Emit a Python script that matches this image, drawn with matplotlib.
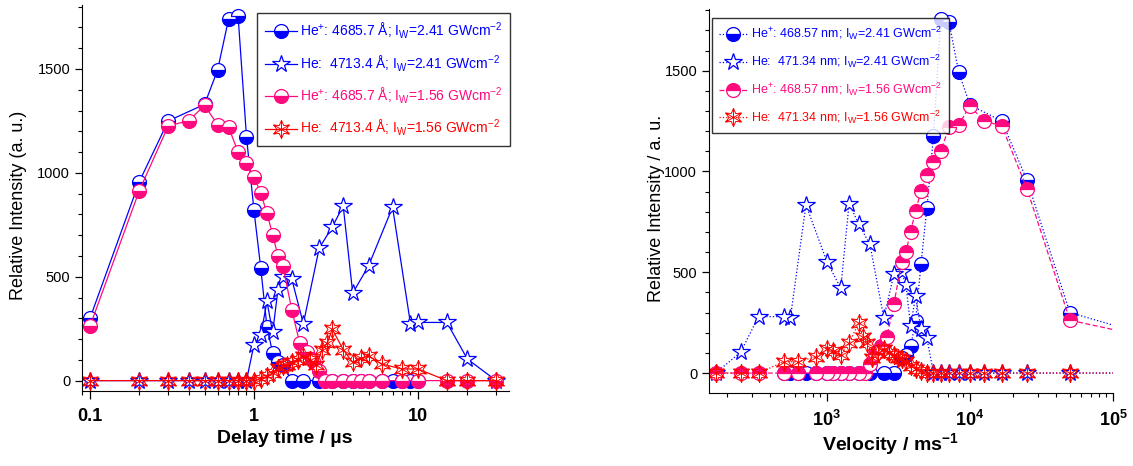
import matplotlib
matplotlib.use("Agg")
import matplotlib.pyplot as plt
import numpy as np
from matplotlib.path import Path
from matplotlib.ticker import MultipleLocator, LogLocator, NullFormatter
from matplotlib import font_manager

# He+ (468.57 nm) and He (471.34 nm) emission vs delay time / velocity,
# two laser intensities (2.41 and 1.56 GW cm^-2)

# ---- left panel: delay time (us) ----
t_ion_hi = [0.1, 0.2, 0.3, 0.5, 0.6, 0.7, 0.8, 0.9, 1.0, 1.1, 1.2, 1.3, 1.4, 1.5,
            1.7, 2.0, 2.5, 3.0, 3.5, 4.0, 4.5, 5.0, 6.0, 7.0, 8.0, 9.0, 10.0]
I_ion_hi = [300, 958, 1250, 1330, 1495, 1740, 1755, 1175, 819, 542, 258, 133, 90, 77,
            0, 0, 0, 0, 0, 0, 0, 0, 0, 0, 0, 0, 0]

t_neu_hi = [0.1, 0.2, 0.3, 0.4, 0.5, 0.6, 0.7, 0.8, 0.9, 1.0, 1.1, 1.2, 1.3, 1.4, 1.5,
            1.7, 2.0, 2.5, 3.0, 3.5, 4.0, 5.0, 7.0, 9.0, 10.0, 15.0, 20.0, 30.0]
I_neu_hi = [0, 0, 0, 0, 0, 0, 0, 0, 0, 173, 218, 381, 232, 437, 501,
            489, 274, 638, 739, 841, 421, 553, 835, 274, 280, 280, 104, 0]

t_ion_lo = [0.1, 0.2, 0.3, 0.4, 0.5, 0.6, 0.7, 0.8, 0.9, 1.0, 1.1, 1.2, 1.3, 1.4, 1.5,
            1.7, 1.9, 2.1, 2.3, 2.5, 2.7, 3.0, 3.5, 4.0, 4.5, 5.0, 6.0, 8.0, 10.0,
            15.0, 20.0, 30.0]
I_ion_lo = [262, 915, 1226, 1251, 1325, 1231, 1220, 1100, 1047, 982, 902, 806, 702, 601, 553,
            341, 181, 136, 93, 45, 0, 0, 0, 0, 0, 0, 0, 0, 0,
            0, 0, 0]

t_neu_lo = [0.1, 0.2, 0.3, 0.4, 0.5, 0.6, 0.7, 0.8, 0.9, 1.0, 1.1, 1.2, 1.3, 1.4, 1.5,
            1.6, 1.7, 1.85, 2.0, 2.2, 2.4, 2.6, 2.8, 3.0, 3.5, 4.0, 4.5, 5.0, 6.0, 8.0,
            10.0, 15.0, 20.0, 30.0]
I_neu_lo = [0, 0, 0, 0, 0, 0, 0, 0, 0, 0, 10, 20, 35, 61, 69,
            77, 88, 100, 117, 101, 77, 149, 181, 248, 149, 88, 109, 117, 80, 56,
            56, 0, 0, 0]

# ---- right panel: velocity (m/s) ----
v_ion_hi = [125000, 50000, 25000, 16700, 10000, 8330, 7140, 6250, 5560, 5000, 4550, 4170,
            3850, 3570, 3330, 2940, 2500, 2000, 1670, 1430, 1250, 1110, 1000, 833, 714,
            625, 556, 500]
J_ion_hi = [218, 300, 958, 1250, 1330, 1495, 1740, 1755, 1175, 819, 542, 258,
            133, 90, 77, 0, 0, 0, 0, 0, 0, 0, 0, 0, 0,
            0, 0, 0]

v_neu_hi = [125000, 50000, 25000, 16700, 12500, 10000, 8330, 7140, 6250, 5560, 5000, 4550,
            4170, 3850, 3570, 3330, 2940, 2500, 2000, 1670, 1430, 1250, 1000, 714, 556,
            500, 333, 250, 167]
J_neu_hi = [0, 0, 0, 0, 0, 0, 0, 0, 0, 0, 173, 218,
            381, 232, 437, 501, 489, 274, 638, 739, 841, 421, 553, 835, 274,
            280, 280, 104, 0]

v_ion_lo = [125000, 50000, 25000, 16700, 12500, 10000, 8330, 7140, 6250, 5560, 5000, 4550,
            4170, 3850, 3570, 3330, 2940, 2630, 2380, 2170, 2000, 1850, 1670, 1430, 1250,
            1110, 1000, 833, 625, 500, 333, 250, 167]
J_ion_lo = [201, 262, 915, 1226, 1251, 1325, 1231, 1220, 1100, 1047, 982, 902,
            806, 702, 601, 553, 341, 181, 136, 93, 45, 0, 0, 0, 0,
            0, 0, 0, 0, 0, 0, 0, 0]

v_neu_lo = [125000, 50000, 25000, 16700, 12500, 10000, 8330, 7140, 6250, 5560, 5000, 4550,
            4170, 3850, 3570, 3330, 3130, 2940, 2700, 2500, 2270, 2080, 1920, 1790, 1670,
            1430, 1250, 1110, 1000, 833, 625, 500, 333, 250, 167]
J_neu_lo = [0, 0, 0, 0, 0, 0, 0, 0, 0, 0, 0, 10,
            20, 35, 61, 69, 77, 88, 100, 117, 101, 77, 149, 181, 248,
            149, 88, 109, 117, 80, 56, 56, 0, 0, 0]

left_labels = [r"He$^{\mathregular{+}}$: 4685.7 Å; I$_{\mathregular{W}}$=2.41 GWcm$^{\mathregular{-2}}$",
               r"He:  4713.4 Å; I$_{\mathregular{W}}$=2.41 GWcm$^{\mathregular{-2}}$",
               r"He$^{\mathregular{+}}$: 4685.7 Å; I$_{\mathregular{W}}$=1.56 GWcm$^{\mathregular{-2}}$",
               r"He:  4713.4 Å; I$_{\mathregular{W}}$=1.56 GWcm$^{\mathregular{-2}}$"]
right_labels = [r"He$^{\mathregular{+}}$: 468.57 nm; I$_{\mathregular{W}}$=2.41 GWcm$^{\mathregular{-2}}$",
                r"He:  471.34 nm; I$_{\mathregular{W}}$=2.41 GWcm$^{\mathregular{-2}}$",
                r"He$^{\mathregular{+}}$: 468.57 nm; I$_{\mathregular{W}}$=1.56 GWcm$^{\mathregular{-2}}$",
                r"He:  471.34 nm; I$_{\mathregular{W}}$=1.56 GWcm$^{\mathregular{-2}}$"]

BLUE = '#0000ff'
PINK = '#ff0a7e'
RED = '#ff0000'

family = 'Liberation Sans'
try:
    font_manager.findfont('Liberation Sans Narrow', fallback_to_default=False)
    narrow = 'Liberation Sans Narrow'
except Exception:
    narrow = family

plt.rcParams['font.family'] = [family, 'DejaVu Sans']
plt.rcParams['mathtext.fontset'] = 'custom'
plt.rcParams['mathtext.rm'] = family
plt.rcParams['mathtext.it'] = family + ':italic'
plt.rcParams['mathtext.bf'] = family + ':bold'


# origin-like 6 point star with an asterisk inside
def snowflake():
    ang = np.pi / 2 + np.arange(12) * np.pi / 6
    rad = np.where(np.arange(12) % 2 == 0, 1.0, 0.5)
    pts = list(zip(rad * np.cos(ang), rad * np.sin(ang)))
    verts = pts + [pts[0]]
    codes = [Path.MOVETO] + [Path.LINETO] * 11 + [Path.CLOSEPOLY]
    for k in range(3):
        a = np.pi / 2 + k * np.pi / 3
        verts += [(np.cos(a), np.sin(a)), (-np.cos(a), -np.sin(a))]
        codes += [Path.MOVETO, Path.LINETO]
    return Path(verts, codes)


SNOW = snowflake()
lw = 0.9


def draw(ax, x1, y1, x2, y2, x3, y3, x4, y4, styles, ion_lo_fill, labels, fs, loc):
    h1, = ax.plot(x1, y1, linestyle=styles[0], color=BLUE, lw=lw, marker='o', ms=10,
                  fillstyle='bottom', mfc=BLUE, mfcalt='white', mec=BLUE, mew=0.9)
    h2, = ax.plot(x2, y2, linestyle=styles[1], color=BLUE, lw=lw, marker='*', ms=13,
                  mfc='white', mec=BLUE, mew=0.9)
    h3, = ax.plot(x3, y3, linestyle=styles[2], color=PINK, lw=lw, marker='o', ms=10,
                  fillstyle=ion_lo_fill, mfc=PINK, mfcalt='white', mec=PINK, mew=0.9)
    h4, = ax.plot(x4, y4, linestyle=styles[3], color=RED, lw=lw, marker=SNOW, ms=13,
                  mfc='none', mec=RED, mew=0.7)
    leg = ax.legend([h1, h2, h3, h4], labels, loc='upper left', bbox_to_anchor=loc,
                    bbox_transform=fig.transFigure, borderaxespad=0, frameon=True,
                    fancybox=False, edgecolor='black', handlelength=2.3, handletextpad=0.25,
                    labelspacing=0.85, borderpad=0.55,
                    prop={'family': [narrow, 'DejaVu Sans'], 'size': fs})
    leg.get_frame().set_linewidth(1.0)
    for txt, c in zip(leg.get_texts(), [BLUE, BLUE, PINK, RED]):
        txt.set_color(c)

    ax.spines['top'].set_visible(False)
    ax.spines['right'].set_visible(False)
    ax.set_xscale('log')
    ax.yaxis.set_major_locator(MultipleLocator(500))
    ax.yaxis.set_minor_locator(MultipleLocator(100))
    ax.xaxis.set_minor_locator(LogLocator(base=10, subs=np.arange(2, 10)))
    ax.xaxis.set_minor_formatter(NullFormatter())
    ax.tick_params(which='major', direction='out', length=5, width=0.9, labelsize=10.5)
    ax.tick_params(which='minor', direction='out', length=3, width=0.8)
    ax.tick_params(axis='x', which='major', length=6, labelsize=13, pad=6)


fig = plt.figure(figsize=(11.33, 4.66), dpi=100)

ax1 = fig.add_axes([82 / 1133, 75 / 466, 427 / 1133, 386 / 466])
draw(ax1, t_ion_hi, I_ion_hi, t_neu_hi, I_neu_hi, t_ion_lo, I_ion_lo, t_neu_lo, I_neu_lo,
     ['-', '-', '-', '-'], 'bottom', left_labels, 10, (257 / 1133, 1 - 13 / 466))
ax1.set_xlim(0.0894, 35.9)
ax1.set_ylim(-50, 1808)
ax1.set_xticks([0.1, 1, 10])
ax1.set_xticklabels(['0.1', '1', '10'], fontweight='bold')
ax1.set_xlabel('Delay time / µs', fontsize=14, fontweight='bold')
ax1.set_ylabel('Relative Intensity (a. u.)', fontsize=13)
ax1.yaxis.set_label_coords(-0.128, 0.48)
ax1.xaxis.set_label_coords(0.475, -0.10)

ax2 = fig.add_axes([709 / 1133, 73 / 466, 404 / 1133, 384 / 466])
draw(ax2, v_ion_hi, J_ion_hi, v_neu_hi, J_neu_hi, v_ion_lo, J_ion_lo, v_neu_lo, J_neu_lo,
     [':', ':', (0, (4, 2)), ':'], 'top', right_labels, 9, (712 / 1133, 1 - 18 / 466))
ax2.set_xlim(150, 1e5)
ax2.set_ylim(-99, 1806)
ax2.set_xticks([1e3, 1e4, 1e5])
ax2.set_xticklabels([r'$\mathbf{10^{3}}$', r'$\mathbf{10^{4}}$', r'$\mathbf{10^{5}}$'])
ax2.set_xlabel(r'Velocity / ms$^{\mathbf{-1}}$', fontsize=14, fontweight='bold')
ax2.set_ylabel('Relative Intensity / a. u.', fontsize=13)
ax2.yaxis.set_label_coords(-0.11, 0.48)
ax2.xaxis.set_label_coords(0.45, -0.10)

fig.savefig('out.png', dpi=100)
